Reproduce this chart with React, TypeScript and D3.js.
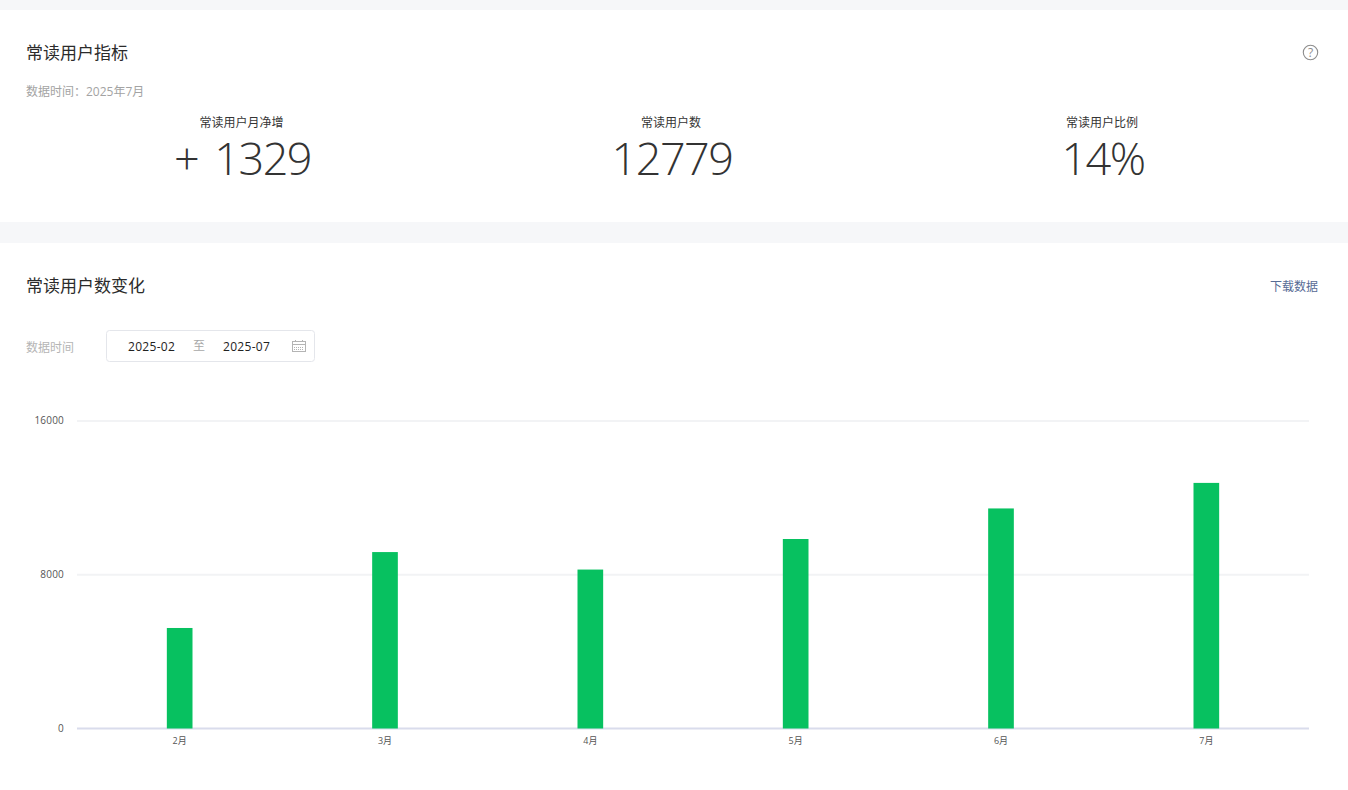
import React from "react";
import * as d3 from "d3";

const months = ["2月", "3月", "4月", "5月", "6月", "7月"];
const readers = [5230, 9180, 8270, 9860, 11450, 12779];
const yTicks = [0, 8000, 16000];
const kpiLabels = ["常读用户月净增", "常读用户数", "常读用户比例"];
const kpiValues = ["+ 1329", "12779", "14%"];

const W = 1348;
const H = 790;
const FONT = '"Open Sans", "Noto Sans CJK SC", sans-serif';

export default function App() {
  const x = d3.scaleBand<string>().domain(months).range([77, 1309]);
  const y = d3.scaleLinear().domain([0, 16000]).range([728.5, 421]);
  const barW = x.bandwidth() / 8;
  const kpiX = [242.5, 672, 1103];
  const calX = 292;
  const calY = 341;
  return (
    <svg
      width={W}
      height={H}
      viewBox={`0 0 ${W} ${H}`}
      style={{ position: "fixed", left: 0, top: 0, display: "block", fontFamily: FONT }}
    >
      <rect x={0} y={0} width={W} height={H} fill="#ffffff" />
      <rect x={0} y={0} width={W} height={10} fill="#f6f7f9" />
      <rect x={0} y={222} width={W} height={21} fill="#f6f7f9" />

      <text x={26} y={59} fontSize={17} fill="#2b2b2b">常读用户指标</text>
      <text x={26} y={96} fontSize={12} fill="#a3a3a3">数据时间：2025年7月</text>
      <circle cx={1310.5} cy={52.5} r={7.2} fill="none" stroke="#8c8c8c" strokeWidth={1.1} />
      <text x={1310.5} y={57} fontSize={12} fill="#8c8c8c" textAnchor="middle">?</text>

      {kpiLabels.map((t, i) => (
        <text key={t} x={kpiX[i] - 1} y={127} fontSize={12} fill="#353535" textAnchor="middle">{t}</text>
      ))}
      {kpiValues.map((t, i) => (
        <text
          key={t}
          x={kpiX[i]}
          y={174.5}
          fontSize={45}
          fontWeight={300}
          letterSpacing={-1.5}
          wordSpacing={6}
          fill="#333333"
          textAnchor="middle"
        >
          {t}
        </text>
      ))}

      <text x={26} y={292} fontSize={17} fill="#2b2b2b">常读用户数变化</text>
      <text x={1318} y={291} fontSize={12} fill="#576b95" textAnchor="end">下载数据</text>

      <text x={26} y={352} fontSize={12} fill="#b5b5b5">数据时间</text>
      <rect x={106.5} y={330.5} width={208} height={31} rx={3} fill="#ffffff" stroke="#e4e6eb" />
      <text x={128} y={351} fontSize={12} letterSpacing={0.3} fill="#222222">2025-02</text>
      <text x={199} y={350} fontSize={12} fill="#a8a8a8" textAnchor="middle">至</text>
      <text x={223} y={351} fontSize={12} letterSpacing={0.3} fill="#222222">2025-07</text>
      <g fill="none" stroke="#b4b4b4" strokeWidth={1}>
        <rect x={calX + 0.5} y={calY + 0.5} width={13} height={10} />
        <line x1={calX} x2={calX + 14} y1={calY + 3.5} y2={calY + 3.5} />
        <line x1={calX + 3.5} x2={calX + 3.5} y1={calY - 1} y2={calY + 1} />
        <line x1={calX + 10.5} x2={calX + 10.5} y1={calY - 1} y2={calY + 1} />
        <line x1={calX + 2} x2={calX + 12} y1={calY + 6.5} y2={calY + 6.5} strokeDasharray="1 1" />
        <line x1={calX + 2} x2={calX + 12} y1={calY + 8.5} y2={calY + 8.5} strokeDasharray="1 1" />
      </g>

      {yTicks.map((v) => (
        <g key={v}>
          <line
            x1={77}
            x2={1309}
            y1={y(v)}
            y2={y(v)}
            stroke={v === 0 ? "#d9dcec" : "#f2f3f5"}
            strokeWidth={2}
          />
          <text x={64} y={y(v) + 3} fontSize={10} letterSpacing={0.2} fill="#555555" textAnchor="end">{v}</text>
        </g>
      ))}

      {months.map((m, i) => (
        <g key={m}>
          <rect
            x={(x(m) as number) + (x.bandwidth() - barW) / 2}
            y={y(readers[i])}
            width={barW}
            height={y(0) - y(readers[i])}
            fill="#07c160"
          />
          <text
            x={(x(m) as number) + x.bandwidth() / 2}
            y={744}
            fontSize={9}
            fill="#555555"
            textAnchor="middle"
          >
            {m}
          </text>
        </g>
      ))}
    </svg>
  );
}
